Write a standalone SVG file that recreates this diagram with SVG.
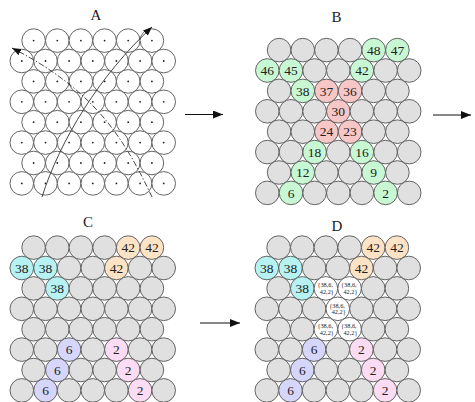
<svg xmlns="http://www.w3.org/2000/svg" xmlns:xlink="http://www.w3.org/1999/xlink" width="475" height="402" viewBox="0 0 475 402">
<style>
.w{fill:#fff;stroke:#555;stroke-width:0.9}
.dot{fill:#222}
.g{fill:#e0e0e0;stroke:#555;stroke-width:0.9}
.gn{fill:#c8f7d4;stroke:#555;stroke-width:0.9}
.pk{fill:#f7c6c6;stroke:#555;stroke-width:0.9}
.cy{fill:#b6f2f2;stroke:#555;stroke-width:0.9}
.pe{fill:#fde3c5;stroke:#555;stroke-width:0.9}
.lv{fill:#d6d6fb;stroke:#555;stroke-width:0.9}
.p2{fill:#fbdcf2;stroke:#555;stroke-width:0.9}
.wh{fill:#fff;stroke:#555;stroke-width:0.9}
.n{font-family:"Liberation Serif",serif;font-size:13.5px;fill:#222;text-anchor:middle}
.s{font-family:"Liberation Serif",serif;font-size:6.3px;fill:#222;text-anchor:middle}
.lab{font-family:"Liberation Serif",serif;font-size:15px;fill:#222;text-anchor:middle}
.arr{stroke:#111;stroke-width:1.2;fill:none}
.cv{stroke:#333;stroke-width:0.9;fill:none}
</style>
<defs>
<g id="acell"><circle class="w" r="11.8"/><circle class="dot" r="0.9"/></g>
<circle id="gcell" class="g" r="11.8"/>
<marker id="ah" markerWidth="10" markerHeight="8" refX="10" refY="4" orient="auto" markerUnits="userSpaceOnUse"><path d="M0,0 L10,4 L0,8 z" fill="#111"/></marker>
<marker id="ahs" markerWidth="9" markerHeight="7" refX="9" refY="3.5" orient="auto" markerUnits="userSpaceOnUse"><path d="M0,0 L9,3.5 L0,7 z" fill="#111"/></marker>
</defs>

<text class="lab" x="96" y="20">A</text>
<text class="lab" x="336.5" y="22">B</text>
<text class="lab" x="88" y="227">C</text>
<text class="lab" x="337" y="231">D</text>

<g id="panelA">
<g id="a1-1"><use href="#acell" x="33.6" y="40.6"/></g><g id="a1-2"><use href="#acell" x="57.3" y="40.6"/></g><g id="a1-3"><use href="#acell" x="80.9" y="40.6"/></g><g id="a1-4"><use href="#acell" x="104.6" y="40.6"/></g><g id="a1-5"><use href="#acell" x="128.2" y="40.6"/></g><g id="a1-6"><use href="#acell" x="151.9" y="40.6"/></g>
<g id="a2-1"><use href="#acell" x="21.8" y="61"/></g><g id="a2-2"><use href="#acell" x="45.5" y="61"/></g><g id="a2-3"><use href="#acell" x="69.1" y="61"/></g><g id="a2-4"><use href="#acell" x="92.8" y="61"/></g><g id="a2-5"><use href="#acell" x="116.4" y="61"/></g><g id="a2-6"><use href="#acell" x="140.1" y="61"/></g><g id="a2-7"><use href="#acell" x="163.7" y="61"/></g>
<g id="a3-1"><use href="#acell" x="33.6" y="81.4"/></g><g id="a3-2"><use href="#acell" x="57.3" y="81.4"/></g><g id="a3-3"><use href="#acell" x="80.9" y="81.4"/></g><g id="a3-4"><use href="#acell" x="104.6" y="81.4"/></g><g id="a3-5"><use href="#acell" x="128.2" y="81.4"/></g><g id="a3-6"><use href="#acell" x="151.9" y="81.4"/></g>
<g id="a4-1"><use href="#acell" x="21.8" y="101.8"/></g><g id="a4-2"><use href="#acell" x="45.5" y="101.8"/></g><g id="a4-3"><use href="#acell" x="69.1" y="101.8"/></g><g id="a4-4"><use href="#acell" x="92.8" y="101.8"/></g><g id="a4-5"><use href="#acell" x="116.4" y="101.8"/></g><g id="a4-6"><use href="#acell" x="140.1" y="101.8"/></g><g id="a4-7"><use href="#acell" x="163.7" y="101.8"/></g>
<g id="a5-1"><use href="#acell" x="33.6" y="122.2"/></g><g id="a5-2"><use href="#acell" x="57.3" y="122.2"/></g><g id="a5-3"><use href="#acell" x="80.9" y="122.2"/></g><g id="a5-4"><use href="#acell" x="104.6" y="122.2"/></g><g id="a5-5"><use href="#acell" x="128.2" y="122.2"/></g><g id="a5-6"><use href="#acell" x="151.9" y="122.2"/></g>
<g id="a6-1"><use href="#acell" x="21.8" y="142.6"/></g><g id="a6-2"><use href="#acell" x="45.5" y="142.6"/></g><g id="a6-3"><use href="#acell" x="69.1" y="142.6"/></g><g id="a6-4"><use href="#acell" x="92.8" y="142.6"/></g><g id="a6-5"><use href="#acell" x="116.4" y="142.6"/></g><g id="a6-6"><use href="#acell" x="140.1" y="142.6"/></g><g id="a6-7"><use href="#acell" x="163.7" y="142.6"/></g>
<g id="a7-1"><use href="#acell" x="33.6" y="163"/></g><g id="a7-2"><use href="#acell" x="57.3" y="163"/></g><g id="a7-3"><use href="#acell" x="80.9" y="163"/></g><g id="a7-4"><use href="#acell" x="104.6" y="163"/></g><g id="a7-5"><use href="#acell" x="128.2" y="163"/></g><g id="a7-6"><use href="#acell" x="151.9" y="163"/></g>
<g id="a8-1"><use href="#acell" x="21.8" y="183.4"/></g><g id="a8-2"><use href="#acell" x="45.5" y="183.4"/></g><g id="a8-3"><use href="#acell" x="69.1" y="183.4"/></g><g id="a8-4"><use href="#acell" x="92.8" y="183.4"/></g><g id="a8-5"><use href="#acell" x="116.4" y="183.4"/></g><g id="a8-6"><use href="#acell" x="140.1" y="183.4"/></g><g id="a8-7"><use href="#acell" x="163.7" y="183.4"/></g>
</g>

<g id="panelB" transform="translate(245.5,9.5)">
<g id="b1-1"><use href="#gcell" x="33.6" y="40.6"/></g><g id="b1-2"><use href="#gcell" x="57.3" y="40.6"/></g><g id="b1-3"><use href="#gcell" x="80.9" y="40.6"/></g><g id="b1-4"><use href="#gcell" x="104.6" y="40.6"/></g>
<g id="b1-5"><circle class="gn" cx="128.2" cy="40.6" r="11.8"/><text class="n" x="128.2" y="45.2">48</text></g>
<g id="b1-6"><circle class="gn" cx="151.9" cy="40.6" r="11.8"/><text class="n" x="151.9" y="45.2">47</text></g>
<g id="b2-1"><circle class="gn" cx="21.8" cy="61" r="11.8"/><text class="n" x="21.8" y="65.6">46</text></g>
<g id="b2-2"><circle class="gn" cx="45.5" cy="61" r="11.8"/><text class="n" x="45.5" y="65.6">45</text></g>
<g id="b2-3"><use href="#gcell" x="69.1" y="61"/></g><g id="b2-4"><use href="#gcell" x="92.8" y="61"/></g>
<g id="b2-5"><circle class="gn" cx="116.4" cy="61" r="11.8"/><text class="n" x="116.4" y="65.6">42</text></g>
<g id="b2-6"><use href="#gcell" x="140.1" y="61"/></g><g id="b2-7"><use href="#gcell" x="163.7" y="61"/></g>
<g id="b3-1"><use href="#gcell" x="33.6" y="81.4"/></g>
<g id="b3-2"><circle class="gn" cx="57.3" cy="81.4" r="11.8"/><text class="n" x="57.3" y="86">38</text></g>
<g id="b3-3"><circle class="pk" cx="80.9" cy="81.4" r="11.8"/><text class="n" x="80.9" y="86">37</text></g>
<g id="b3-4"><circle class="pk" cx="104.6" cy="81.4" r="11.8"/><text class="n" x="104.6" y="86">36</text></g>
<g id="b3-5"><use href="#gcell" x="128.2" y="81.4"/></g><g id="b3-6"><use href="#gcell" x="151.9" y="81.4"/></g>
<g id="b4-1"><use href="#gcell" x="21.8" y="101.8"/></g><g id="b4-2"><use href="#gcell" x="45.5" y="101.8"/></g><g id="b4-3"><use href="#gcell" x="69.1" y="101.8"/></g>
<g id="b4-4"><circle class="pk" cx="92.8" cy="101.8" r="11.8"/><text class="n" x="92.8" y="106.4">30</text></g>
<g id="b4-5"><use href="#gcell" x="116.4" y="101.8"/></g><g id="b4-6"><use href="#gcell" x="140.1" y="101.8"/></g><g id="b4-7"><use href="#gcell" x="163.7" y="101.8"/></g>
<g id="b5-1"><use href="#gcell" x="33.6" y="122.2"/></g><g id="b5-2"><use href="#gcell" x="57.3" y="122.2"/></g>
<g id="b5-3"><circle class="pk" cx="80.9" cy="122.2" r="11.8"/><text class="n" x="80.9" y="126.8">24</text></g>
<g id="b5-4"><circle class="pk" cx="104.6" cy="122.2" r="11.8"/><text class="n" x="104.6" y="126.8">23</text></g>
<g id="b5-5"><use href="#gcell" x="128.2" y="122.2"/></g><g id="b5-6"><use href="#gcell" x="151.9" y="122.2"/></g>
<g id="b6-1"><use href="#gcell" x="21.8" y="142.6"/></g><g id="b6-2"><use href="#gcell" x="45.5" y="142.6"/></g>
<g id="b6-3"><circle class="gn" cx="69.1" cy="142.6" r="11.8"/><text class="n" x="69.1" y="147.2">18</text></g>
<g id="b6-4"><use href="#gcell" x="92.8" y="142.6"/></g>
<g id="b6-5"><circle class="gn" cx="116.4" cy="142.6" r="11.8"/><text class="n" x="116.4" y="147.2">16</text></g>
<g id="b6-6"><use href="#gcell" x="140.1" y="142.6"/></g><g id="b6-7"><use href="#gcell" x="163.7" y="142.6"/></g>
<g id="b7-1"><use href="#gcell" x="33.6" y="163"/></g>
<g id="b7-2"><circle class="gn" cx="57.3" cy="163" r="11.8"/><text class="n" x="57.3" y="167.6">12</text></g>
<g id="b7-3"><use href="#gcell" x="80.9" y="163"/></g><g id="b7-4"><use href="#gcell" x="104.6" y="163"/></g>
<g id="b7-5"><circle class="gn" cx="128.2" cy="163" r="11.8"/><text class="n" x="128.2" y="167.6">9</text></g>
<g id="b7-6"><use href="#gcell" x="151.9" y="163"/></g>
<g id="b8-1"><use href="#gcell" x="21.8" y="183.4"/></g>
<g id="b8-2"><circle class="gn" cx="45.5" cy="183.4" r="11.8"/><text class="n" x="45.5" y="188">6</text></g>
<g id="b8-3"><use href="#gcell" x="69.1" y="183.4"/></g><g id="b8-4"><use href="#gcell" x="92.8" y="183.4"/></g><g id="b8-5"><use href="#gcell" x="116.4" y="183.4"/></g>
<g id="b8-6"><circle class="gn" cx="140.1" cy="183.4" r="11.8"/><text class="n" x="140.1" y="188">2</text></g>
<g id="b8-7"><use href="#gcell" x="163.7" y="183.4"/></g>
</g>

<g id="panelC" transform="translate(0,207)">
<g id="c1-1"><use href="#gcell" x="33.6" y="40.6"/></g><g id="c1-2"><use href="#gcell" x="57.3" y="40.6"/></g><g id="c1-3"><use href="#gcell" x="80.9" y="40.6"/></g><g id="c1-4"><use href="#gcell" x="104.6" y="40.6"/></g>
<g id="c1-5"><circle class="pe" cx="128.2" cy="40.6" r="11.8"/><text class="n" x="128.2" y="45.2">42</text></g>
<g id="c1-6"><circle class="pe" cx="151.9" cy="40.6" r="11.8"/><text class="n" x="151.9" y="45.2">42</text></g>
<g id="c2-1"><circle class="cy" cx="21.8" cy="61" r="11.8"/><text class="n" x="21.8" y="65.6">38</text></g>
<g id="c2-2"><circle class="cy" cx="45.5" cy="61" r="11.8"/><text class="n" x="45.5" y="65.6">38</text></g>
<g id="c2-3"><use href="#gcell" x="69.1" y="61"/></g><g id="c2-4"><use href="#gcell" x="92.8" y="61"/></g>
<g id="c2-5"><circle class="pe" cx="116.4" cy="61" r="11.8"/><text class="n" x="116.4" y="65.6">42</text></g>
<g id="c2-6"><use href="#gcell" x="140.1" y="61"/></g><g id="c2-7"><use href="#gcell" x="163.7" y="61"/></g>
<g id="c3-1"><use href="#gcell" x="33.6" y="81.4"/></g>
<g id="c3-2"><circle class="cy" cx="57.3" cy="81.4" r="11.8"/><text class="n" x="57.3" y="86">38</text></g>
<g id="c3-3"><use href="#gcell" x="80.9" y="81.4"/></g><g id="c3-4"><use href="#gcell" x="104.6" y="81.4"/></g><g id="c3-5"><use href="#gcell" x="128.2" y="81.4"/></g><g id="c3-6"><use href="#gcell" x="151.9" y="81.4"/></g>
<g id="c4-1"><use href="#gcell" x="21.8" y="101.8"/></g><g id="c4-2"><use href="#gcell" x="45.5" y="101.8"/></g><g id="c4-3"><use href="#gcell" x="69.1" y="101.8"/></g><g id="c4-4"><use href="#gcell" x="92.8" y="101.8"/></g><g id="c4-5"><use href="#gcell" x="116.4" y="101.8"/></g><g id="c4-6"><use href="#gcell" x="140.1" y="101.8"/></g><g id="c4-7"><use href="#gcell" x="163.7" y="101.8"/></g>
<g id="c5-1"><use href="#gcell" x="33.6" y="122.2"/></g><g id="c5-2"><use href="#gcell" x="57.3" y="122.2"/></g><g id="c5-3"><use href="#gcell" x="80.9" y="122.2"/></g><g id="c5-4"><use href="#gcell" x="104.6" y="122.2"/></g><g id="c5-5"><use href="#gcell" x="128.2" y="122.2"/></g><g id="c5-6"><use href="#gcell" x="151.9" y="122.2"/></g>
<g id="c6-1"><use href="#gcell" x="21.8" y="142.6"/></g><g id="c6-2"><use href="#gcell" x="45.5" y="142.6"/></g>
<g id="c6-3"><circle class="lv" cx="69.1" cy="142.6" r="11.8"/><text class="n" x="69.1" y="147.2">6</text></g>
<g id="c6-4"><use href="#gcell" x="92.8" y="142.6"/></g>
<g id="c6-5"><circle class="p2" cx="116.4" cy="142.6" r="11.8"/><text class="n" x="116.4" y="147.2">2</text></g>
<g id="c6-6"><use href="#gcell" x="140.1" y="142.6"/></g><g id="c6-7"><use href="#gcell" x="163.7" y="142.6"/></g>
<g id="c7-1"><use href="#gcell" x="33.6" y="163"/></g>
<g id="c7-2"><circle class="lv" cx="57.3" cy="163" r="11.8"/><text class="n" x="57.3" y="167.6">6</text></g>
<g id="c7-3"><use href="#gcell" x="80.9" y="163"/></g><g id="c7-4"><use href="#gcell" x="104.6" y="163"/></g>
<g id="c7-5"><circle class="p2" cx="128.2" cy="163" r="11.8"/><text class="n" x="128.2" y="167.6">2</text></g>
<g id="c7-6"><use href="#gcell" x="151.9" y="163"/></g>
<g id="c8-1"><use href="#gcell" x="21.8" y="183.4"/></g>
<g id="c8-2"><circle class="lv" cx="45.5" cy="183.4" r="11.8"/><text class="n" x="45.5" y="188">6</text></g>
<g id="c8-3"><use href="#gcell" x="69.1" y="183.4"/></g><g id="c8-4"><use href="#gcell" x="92.8" y="183.4"/></g><g id="c8-5"><use href="#gcell" x="116.4" y="183.4"/></g>
<g id="c8-6"><circle class="p2" cx="140.1" cy="183.4" r="11.8"/><text class="n" x="140.1" y="188">2</text></g>
<g id="c8-7"><use href="#gcell" x="163.7" y="183.4"/></g>
</g>

<g id="panelD" transform="translate(245,207)">
<g id="d1-1"><use href="#gcell" x="33.6" y="40.6"/></g><g id="d1-2"><use href="#gcell" x="57.3" y="40.6"/></g><g id="d1-3"><use href="#gcell" x="80.9" y="40.6"/></g><g id="d1-4"><use href="#gcell" x="104.6" y="40.6"/></g>
<g id="d1-5"><circle class="pe" cx="128.2" cy="40.6" r="11.8"/><text class="n" x="128.2" y="45.2">42</text></g>
<g id="d1-6"><circle class="pe" cx="151.9" cy="40.6" r="11.8"/><text class="n" x="151.9" y="45.2">42</text></g>
<g id="d2-1"><circle class="cy" cx="21.8" cy="61" r="11.8"/><text class="n" x="21.8" y="65.6">38</text></g>
<g id="d2-2"><circle class="cy" cx="45.5" cy="61" r="11.8"/><text class="n" x="45.5" y="65.6">38</text></g>
<g id="d2-3"><use href="#gcell" x="69.1" y="61"/></g><g id="d2-4"><use href="#gcell" x="92.8" y="61"/></g>
<g id="d2-5"><circle class="pe" cx="116.4" cy="61" r="11.8"/><text class="n" x="116.4" y="65.6">42</text></g>
<g id="d2-6"><use href="#gcell" x="140.1" y="61"/></g><g id="d2-7"><use href="#gcell" x="163.7" y="61"/></g>
<g id="d3-1"><use href="#gcell" x="33.6" y="81.4"/></g>
<g id="d3-2"><circle class="cy" cx="57.3" cy="81.4" r="11.8"/><text class="n" x="57.3" y="86">38</text></g>
<g id="d3-3"><circle class="wh" cx="80.9" cy="81.4" r="11.8"/><text class="s" x="80.2" y="80.2">{38,6,</text><text class="s" x="81.8" y="87">42,2}</text></g>
<g id="d3-4"><circle class="wh" cx="104.6" cy="81.4" r="11.8"/><text class="s" x="103.9" y="80.2">{38,6,</text><text class="s" x="105.5" y="87">42,2}</text></g>
<g id="d3-5"><use href="#gcell" x="128.2" y="81.4"/></g><g id="d3-6"><use href="#gcell" x="151.9" y="81.4"/></g>
<g id="d4-1"><use href="#gcell" x="21.8" y="101.8"/></g><g id="d4-2"><use href="#gcell" x="45.5" y="101.8"/></g><g id="d4-3"><use href="#gcell" x="69.1" y="101.8"/></g>
<g id="d4-4"><circle class="wh" cx="92.8" cy="101.8" r="11.8"/><text class="s" x="92.1" y="100.6">{38,6,</text><text class="s" x="93.7" y="107.4">42,2}</text></g>
<g id="d4-5"><use href="#gcell" x="116.4" y="101.8"/></g><g id="d4-6"><use href="#gcell" x="140.1" y="101.8"/></g><g id="d4-7"><use href="#gcell" x="163.7" y="101.8"/></g>
<g id="d5-1"><use href="#gcell" x="33.6" y="122.2"/></g><g id="d5-2"><use href="#gcell" x="57.3" y="122.2"/></g>
<g id="d5-3"><circle class="wh" cx="80.9" cy="122.2" r="11.8"/><text class="s" x="80.2" y="121">{38,6,</text><text class="s" x="81.8" y="127.8">42,2}</text></g>
<g id="d5-4"><circle class="wh" cx="104.6" cy="122.2" r="11.8"/><text class="s" x="103.9" y="121">{38,6,</text><text class="s" x="105.5" y="127.8">42,2}</text></g>
<g id="d5-5"><use href="#gcell" x="128.2" y="122.2"/></g><g id="d5-6"><use href="#gcell" x="151.9" y="122.2"/></g>
<g id="d6-1"><use href="#gcell" x="21.8" y="142.6"/></g><g id="d6-2"><use href="#gcell" x="45.5" y="142.6"/></g>
<g id="d6-3"><circle class="lv" cx="69.1" cy="142.6" r="11.8"/><text class="n" x="69.1" y="147.2">6</text></g>
<g id="d6-4"><use href="#gcell" x="92.8" y="142.6"/></g>
<g id="d6-5"><circle class="p2" cx="116.4" cy="142.6" r="11.8"/><text class="n" x="116.4" y="147.2">2</text></g>
<g id="d6-6"><use href="#gcell" x="140.1" y="142.6"/></g><g id="d6-7"><use href="#gcell" x="163.7" y="142.6"/></g>
<g id="d7-1"><use href="#gcell" x="33.6" y="163"/></g>
<g id="d7-2"><circle class="lv" cx="57.3" cy="163" r="11.8"/><text class="n" x="57.3" y="167.6">6</text></g>
<g id="d7-3"><use href="#gcell" x="80.9" y="163"/></g><g id="d7-4"><use href="#gcell" x="104.6" y="163"/></g>
<g id="d7-5"><circle class="p2" cx="128.2" cy="163" r="11.8"/><text class="n" x="128.2" y="167.6">2</text></g>
<g id="d7-6"><use href="#gcell" x="151.9" y="163"/></g>
<g id="d8-1"><use href="#gcell" x="21.8" y="183.4"/></g>
<g id="d8-2"><circle class="lv" cx="45.5" cy="183.4" r="11.8"/><text class="n" x="45.5" y="188">6</text></g>
<g id="d8-3"><use href="#gcell" x="69.1" y="183.4"/></g><g id="d8-4"><use href="#gcell" x="92.8" y="183.4"/></g><g id="d8-5"><use href="#gcell" x="116.4" y="183.4"/></g>
<g id="d8-6"><circle class="p2" cx="140.1" cy="183.4" r="11.8"/><text class="n" x="140.1" y="188">2</text></g>
<g id="d8-7"><use href="#gcell" x="163.7" y="183.4"/></g>
</g>

<g id="connectors">
<path class="cv" d="M42,197 C60,140 100,75 152,27" marker-end="url(#ahs)"/>
<path class="cv" d="M152,197 C125,140 95,90 12,48" stroke-dasharray="6,2,1.5,2" marker-end="url(#ahs)"/>
<line class="arr" x1="185" y1="114.5" x2="223" y2="114.5" marker-end="url(#ah)"/>
<line class="arr" x1="433" y1="115" x2="471" y2="115" marker-end="url(#ah)"/>
<line class="arr" x1="200" y1="323" x2="240" y2="323" marker-end="url(#ah)"/>
</g>
</svg>
